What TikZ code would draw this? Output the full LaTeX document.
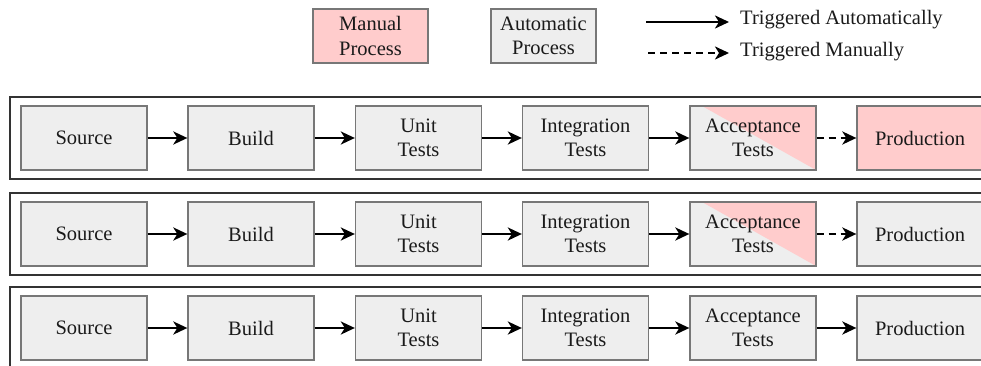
\documentclass[tikz,border=0pt]{standalone}
\usepackage{fontspec}
\setmainfont{Liberation Serif}
\newfontfamily\diagfont{Liberation Serif}[Scale=1.0]
\usetikzlibrary{arrows.meta}
\definecolor{manualfill}{HTML}{FFCCCC}
\definecolor{autofill}{HTML}{EEEEEE}
\definecolor{boxline}{HTML}{777777}
\definecolor{laneline}{HTML}{333333}
\definecolor{inktext}{HTML}{1A1A1A}
\tikzset{
  proc/.style={draw=boxline, line width=1.3pt, fill=autofill, minimum width=126pt,
    minimum height=64pt, inner sep=0pt, align=center, text=inktext,
    font=\diagfont\fontsize{20.5}{24.5}\selectfont},
  manual/.style={proc, fill=manualfill},
  split/.style={proc, path picture={\fill[manualfill]
      ([xshift=12pt]path picture bounding box.north west) --
      (path picture bounding box.north east) --
      (path picture bounding box.south east) -- cycle;}},
  lane/.style={draw=laneline, line width=1.6pt},
  flow/.style={-{Stealth[length=14pt,width=13pt,inset=4pt]}, line width=2.6pt, black},
  manualflow/.style={flow, dash pattern=on 7pt off 5pt},
  legendtext/.style={anchor=west, inner sep=0pt, text=inktext,
    font=\diagfont\fontsize{20.5}{24.5}\selectfont}
}
\begin{document}
\begin{tikzpicture}[x=1pt,y=-1pt]
\useasboundingbox (0,0) rectangle (981,366);
\clip (0,0) rectangle (981,366);
\fill[white] (0,0) rectangle (981,366);

% legend
\node[manual, minimum width=115pt, minimum height=54pt] (lgman) at (370.5,36) {Manual\\Process};
\node[proc, minimum width=105pt, minimum height=54pt] (lgauto) at (543.5,36) {Automatic\\Process};
\coordinate (la1) at (646,22);
\coordinate (la2) at (729,22);
\coordinate (lm1) at (648,53);
\coordinate (lm2) at (729,53);
\draw[flow] (la1) -- (la2);
\draw[manualflow] (lm1) -- (lm2);
\node[legendtext] (lta) at (740,20) {Triggered Automatically};
\node[legendtext] (ltm) at (740,52) {Triggered Manually};

% three pipeline lanes
\foreach \r/\y in {1/138,2/234,3/328}{
  \draw[lane] (10,\y-41) rectangle (1000,\y+41);
  \node[proc] (src\r)  at (84,\y)    {Source};
  \node[proc] (bld\r)  at (251,\y)   {Build};
  \node[proc] (unit\r) at (418.5,\y) {Unit\\Tests};
  \node[proc] (intg\r) at (585.5,\y) {Integration\\Tests};
  \draw[flow] (src\r) -- (bld\r);
  \draw[flow] (bld\r) -- (unit\r);
  \draw[flow] (unit\r) -- (intg\r);
}

% lane 1: manual acceptance, manual production
\node[split] (acc1) at (753,138) {Acceptance\\Tests};
\node[manual] (prod1) at (920,138) {Production};
\draw[flow] (intg1) -- (acc1);
\draw[manualflow] (acc1) -- (prod1);

% lane 2: manual acceptance, automatic production
\node[split] (acc2) at (753,234) {Acceptance\\Tests};
\node[proc] (prod2) at (920,234) {Production};
\draw[flow] (intg2) -- (acc2);
\draw[manualflow] (acc2) -- (prod2);

% lane 3: fully automatic
\node[proc] (acc3) at (753,328) {Acceptance\\Tests};
\node[proc] (prod3) at (920,328) {Production};
\draw[flow] (intg3) -- (acc3);
\draw[flow] (acc3) -- (prod3);
\end{tikzpicture}
\end{document}
